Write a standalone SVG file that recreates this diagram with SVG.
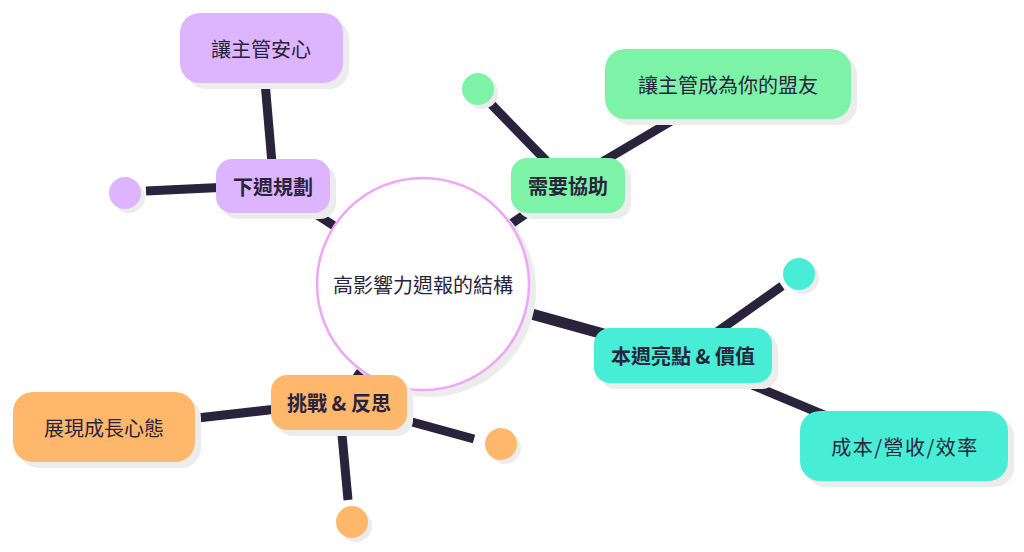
<svg xmlns="http://www.w3.org/2000/svg" width="1024" height="552" viewBox="0 0 1024 552">
<style>
.sh{fill:#ececec}
.p{fill:#DDB5FF}
.g{fill:#7DF3A8}
.t{fill:#48EDD5}
.o{fill:#FFB86B}
.edge{stroke:#29243B;stroke-width:9;fill:none}
text{font-family:"Noto Sans CJK TC","Noto Sans CJK SC",sans-serif;fill:#29243B;text-anchor:middle;dominant-baseline:central}
.n{font-size:20px}
.b{font-size:20px;font-weight:bold}
</style>
<rect width="1024" height="552" fill="#ffffff"/>
<g id="connectors">
<line class="edge" x1="273" y1="186" x2="423" y2="284"/>
<line class="edge" x1="264" y1="70" x2="273" y2="175"/>
<line class="edge" x1="146" y1="191" x2="230" y2="187"/>
<line class="edge" x1="568" y1="185" x2="423" y2="284"/>
<line class="edge" x1="491" y1="104" x2="560" y2="175"/>
<line class="edge" x1="580" y1="175" x2="690" y2="110"/>
<line class="edge" x1="423" y1="284" x2="683" y2="356" style="stroke-width:11"/>
<line class="edge" x1="683" y1="356" x2="782" y2="286"/>
<line class="edge" x1="683" y1="356" x2="860" y2="430"/>
<line class="edge" x1="339" y1="402" x2="423" y2="284"/>
<line class="edge" x1="180" y1="420" x2="339" y2="402"/>
<line class="edge" x1="339" y1="402" x2="474" y2="439"/>
<line class="edge" x1="339" y1="402" x2="348" y2="500"/>
</g>
<g id="center">
<circle class="sh" cx="429" cy="290" r="107"/>
<circle cx="423" cy="284" r="106" fill="#ffffff" stroke="#F0A6F8" stroke-width="2.5"/>
<text class="n" x="423" y="284">高影響力週報的結構</text>
</g>
<g id="n-reassure">
<rect class="sh" x="186" y="19" width="163" height="70" rx="20"/>
<rect class="p" x="180" y="13" width="163" height="70" rx="20"/>
<text class="n" x="261" y="48">讓主管安心</text>
</g>
<g id="n-plan">
<rect class="sh" x="222" y="165" width="114" height="54" rx="16"/>
<rect class="p" x="216" y="159" width="114" height="54" rx="16"/>
<text class="b" x="273" y="186">下週規劃</text>
</g>
<g id="dot-purple">
<circle class="sh" cx="129" cy="197" r="16"/>
<circle class="p" cx="125" cy="193" r="16"/>
</g>
<g id="n-help">
<rect class="sh" x="517" y="164" width="114" height="55" rx="16"/>
<rect class="g" x="511" y="158" width="114" height="55" rx="16"/>
<text class="b" x="568" y="185.5">需要協助</text>
</g>
<g id="n-ally">
<rect class="sh" x="611" y="55" width="246" height="70" rx="20"/>
<rect class="g" x="605" y="49" width="246" height="70" rx="20"/>
<text class="n" x="728" y="84">讓主管成為你的盟友</text>
</g>
<g id="dot-green">
<circle class="sh" cx="482" cy="93" r="16"/>
<circle class="g" cx="478" cy="89" r="16"/>
</g>
<g id="n-highlight">
<rect class="sh" x="600" y="334" width="178" height="55" rx="16"/>
<rect class="t" x="594" y="328" width="178" height="55" rx="16"/>
<text class="b" x="683" y="355.5">本週亮點 &amp; 價值</text>
</g>
<g id="n-cost">
<rect class="sh" x="806" y="417" width="208" height="70" rx="20"/>
<rect class="t" x="800" y="411" width="208" height="70" rx="20"/>
<text class="n" x="905" y="446" style="letter-spacing:1.5px">成本/營收/效率</text>
</g>
<g id="dot-teal">
<circle class="sh" cx="803" cy="278" r="16"/>
<circle class="t" cx="799" cy="274" r="16"/>
</g>
<g id="n-challenge">
<rect class="sh" x="277" y="381" width="136" height="55" rx="16"/>
<rect class="o" x="271" y="375" width="136" height="55" rx="16"/>
<text class="b" x="339" y="402.5">挑戰 &amp; 反思</text>
</g>
<g id="n-growth">
<rect class="sh" x="19" y="398" width="182" height="70" rx="20"/>
<rect class="o" x="13" y="392" width="182" height="70" rx="20"/>
<text class="n" x="104" y="427">展現成長心態</text>
</g>
<g id="dot-orange-r">
<circle class="sh" cx="505" cy="448" r="16"/>
<circle class="o" cx="501" cy="444" r="16"/>
</g>
<g id="dot-orange-b">
<circle class="sh" cx="356" cy="526" r="16"/>
<circle class="o" cx="352" cy="522" r="16"/>
</g>
</svg>
